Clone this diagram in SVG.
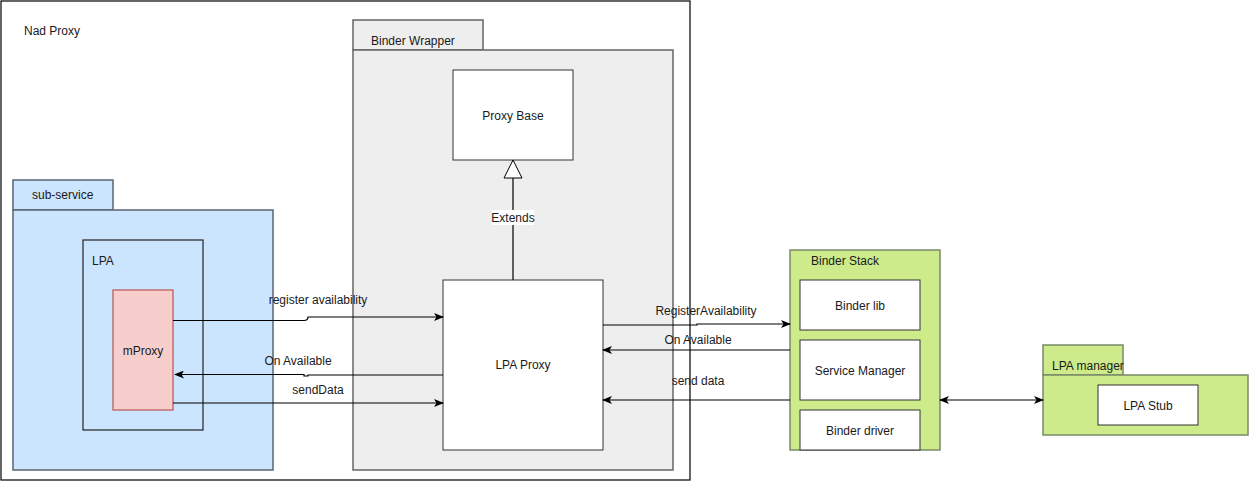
<svg xmlns="http://www.w3.org/2000/svg" width="1249" height="481" viewBox="0 0 1249 481">
<defs>
<style>
text{font-family:"Liberation Sans",Arial,sans-serif;font-size:12px;fill:#1a1a1a}
.c{text-anchor:middle}
.box{fill:#fff;stroke:#333;stroke-width:1}
.wrap{fill:#eeeeee;stroke:#666;stroke-width:1.5}
.blue{fill:#cce5ff;stroke:#5a6470;stroke-width:1.5}
.green{fill:#cdeb8b;stroke:#7a8a6a;stroke-width:1.5}
.edge{fill:none;stroke:#000;stroke-width:1.2}
</style>
<marker id="arr" viewBox="0 0 10 8" refX="9" refY="4" markerWidth="10" markerHeight="8" markerUnits="userSpaceOnUse" orient="auto-start-reverse">
<path d="M0,0 L10,4 L0,8 L2.5,4 Z" fill="#000"/>
</marker>
<marker id="tri" viewBox="0 0 20 20" refX="19" refY="10" markerWidth="20" markerHeight="20" markerUnits="userSpaceOnUse" orient="auto">
<path d="M1,1 L19,10 L1,19 Z" fill="#fff" stroke="#000" stroke-width="1"/>
</marker>
</defs>

<g id="nad-proxy">
<rect x="1" y="1" width="689" height="479" fill="#fff" stroke="#000" stroke-width="1.2"/>
<text x="24" y="35">Nad Proxy</text>
</g>

<g id="binder-wrapper">
<rect class="wrap" x="353" y="20" width="130" height="30"/>
<rect class="wrap" x="353" y="50" width="320" height="420"/>
<text x="371" y="45">Binder Wrapper</text>
</g>

<g id="proxy-base">
<rect class="box" x="453" y="70" width="120" height="90"/>
<text class="c" x="513" y="120">Proxy Base</text>
</g>

<g id="lpa-proxy">
<rect class="box" x="443" y="280" width="160" height="170"/>
<text class="c" x="523" y="369">LPA Proxy</text>
</g>

<g id="sub-service">
<rect class="blue" x="13" y="180" width="100" height="30"/>
<rect class="blue" x="13" y="210" width="260" height="260"/>
<text x="32" y="199">sub-service</text>
</g>

<g id="lpa">
<rect x="83" y="240" width="120" height="190" fill="none" stroke="#222" stroke-width="1.2"/>
<text x="92" y="265">LPA</text>
</g>

<g id="mproxy">
<rect x="113" y="290" width="60" height="120" fill="#f8cecc" stroke="#b85450" stroke-width="1.2"/>
<text class="c" x="143" y="355">mProxy</text>
</g>

<g id="binder-stack">
<rect class="green" x="790" y="250" width="150" height="200"/>
<text x="811" y="265">Binder Stack</text>
</g>
<g id="binder-lib">
<rect class="box" x="800" y="280" width="120" height="50"/>
<text class="c" x="860" y="310">Binder lib</text>
</g>
<g id="service-manager">
<rect class="box" x="800" y="340" width="120" height="60"/>
<text class="c" x="860" y="375">Service Manager</text>
</g>
<g id="binder-driver">
<rect class="box" x="800" y="410" width="120" height="40"/>
<text class="c" x="860" y="435">Binder driver</text>
</g>

<g id="lpa-manager">
<rect class="green" x="1043" y="345" width="80" height="30"/>
<rect class="green" x="1043" y="375" width="205" height="60"/>
<text x="1052" y="370">LPA manager</text>
</g>
<g id="lpa-stub">
<rect class="box" x="1098" y="385" width="100" height="40"/>
<text class="c" x="1148" y="410">LPA Stub</text>
</g>

<g id="connectors">
<path class="edge" d="M513,280 L513,160" stroke="#333" marker-end="url(#tri)"/>
<rect x="492" y="210" width="42" height="15" fill="#fff"/>
<text class="c" x="513" y="222">Extends</text>

<path class="edge" d="M173,320.5 L304,320.5 Q308,320.5 308,317 L443,317" marker-end="url(#arr)"/>
<text class="c" x="318" y="304">register availability</text>

<path class="edge" d="M443,375 L308,375 L308,376 L304,376 L304,374.5 L175,374.5" marker-end="url(#arr)"/>
<text class="c" x="298" y="365">On Available</text>

<path class="edge" d="M173,403 L443,403" marker-end="url(#arr)"/>
<text class="c" x="318" y="394">sendData</text>

<path class="edge" d="M603,325 L697,325 L697,324 L790,324" marker-end="url(#arr)"/>
<text class="c" x="706" y="315">RegisterAvailability</text>

<path class="edge" d="M790,350 L603,350" marker-end="url(#arr)"/>
<text class="c" x="698" y="344">On Available</text>

<path class="edge" d="M790,400 L603,400" marker-end="url(#arr)"/>
<text class="c" x="698" y="385">send data</text>

<path class="edge" d="M940,400 L1043,400" marker-start="url(#arr)" marker-end="url(#arr)"/>
</g>
</svg>
